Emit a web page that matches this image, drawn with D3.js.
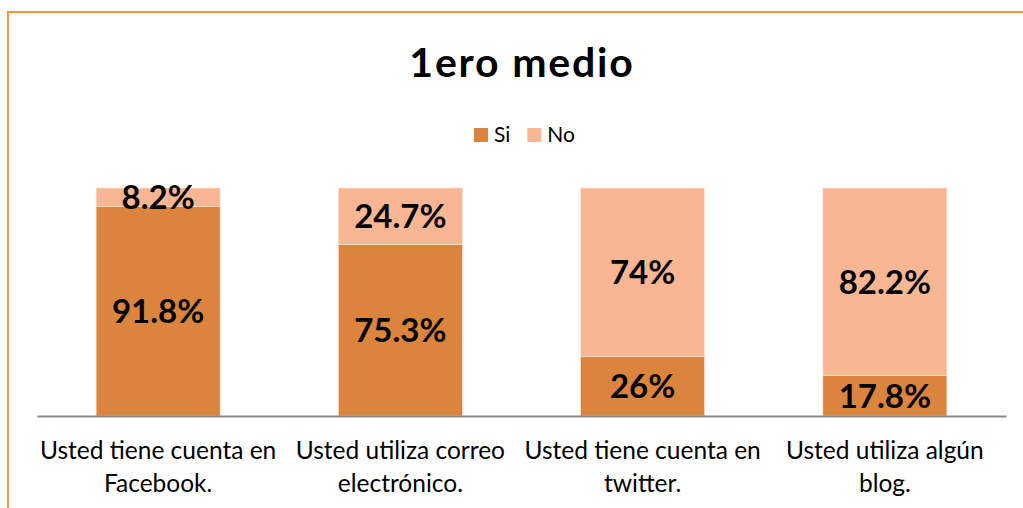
<!DOCTYPE html>
<html>
<head>
<meta charset="utf-8">
<script src="https://cdn.jsdelivr.net/npm/d3@7"></script>
<style>
  body { margin: 0; background: #fff; }
  svg { display: block; font-family: Lato, "Open Sans", sans-serif; }
</style>
</head>
<body>
<div id="chart"></div>
<script>
// data
var categories = [
    "Usted tiene cuenta en\nFacebook.",
    "Usted utiliza correo\nelectrónico.",
    "Usted tiene cuenta en\ntwitter.",
    "Usted utiliza algún\nblog."
];
var keys = ["Si", "No"];
var siValues = [91.8, 75.3, 26, 17.8];
var noValues = [8.2, 24.7, 74, 82.2];
var title = "1ero medio";

var width = 1023,
    height = 508;

var margin = {top: 188, right: 17, bottom: 92, left: 37};

var colour = d3.scaleOrdinal()
    .domain(keys)
    .range(["#DB843D", "#F9B693"]);

var rows = categories.map(function(c, i) {
    return {cat: c, Si: siValues[i], No: noValues[i]};
});

var svg = d3.select("#chart")
    .append("svg")
    .attr("width", width)
    .attr("height", height);

// orange frame (runs off the right and bottom edge like the original)
svg.append("rect")
    .attr("x", 8)
    .attr("y", 12)
    .attr("width", 1100)
    .attr("height", 600)
    .attr("fill", "none")
    .attr("stroke", "#F79646")
    .attr("stroke-width", 2);

var x = d3.scaleBand()
    .domain(categories)
    .range([margin.left, width - margin.right])
    .paddingInner(0.488)
    .paddingOuter(0.244);

var y = d3.scaleLinear()
    .domain([0, 100])
    .range([height - margin.bottom, margin.top]);

var stacked = d3.stack().keys(keys)(rows);

var layer = svg.selectAll(".layer")
    .data(stacked)
    .enter()
    .append("g")
    .attr("class", "layer")
    .attr("fill", function(d) { return colour(d.key); });

layer.selectAll("rect")
    .data(function(d) { return d; })
    .enter()
    .append("rect")
    .attr("x", function(d) { return x(d.data.cat); })
    .attr("y", function(d) { return y(d[1]); })
    .attr("width", x.bandwidth())
    .attr("height", function(d) { return y(d[0]) - y(d[1]); })
    .attr("stroke", "#fde9dc")
    .attr("stroke-width", 0.6);

// value labels in the middle of each segment
layer.selectAll("text")
    .data(function(d) { return d; })
    .enter()
    .append("text")
    .attr("x", function(d) { return x(d.data.cat) + x.bandwidth() / 2; })
    .attr("y", function(d) { return (y(d[0]) + y(d[1])) / 2; })
    .attr("dy", "0.36em")
    .attr("text-anchor", "middle")
    .attr("fill", "#000")
    .style("font-size", "33px")
    .style("font-weight", "bold")
    .text(function(d) { return d3.format("")(+(d[1] - d[0]).toFixed(1)) + "%"; });

// category axis
var xAxis = svg.append("g")
    .attr("class", "x axis")
    .attr("transform", "translate(0," + (height - margin.bottom) + ")")
    .call(d3.axisBottom(x).tickSize(0).tickSizeOuter(0).tickPadding(0));

xAxis.select(".domain")
    .attr("stroke", "#888888")
    .attr("stroke-width", 2);

xAxis.selectAll(".tick text")
    .attr("fill", "#000")
    .style("font-size", "24.5px")
    .style("font-family", "Lato, sans-serif")
    .attr("y", 0)
    .attr("dy", null)
    .each(function(d) {
        var t = d3.select(this);
        var lines = d.split("\n");
        t.text(null);
        lines.forEach(function(line, i) {
            t.append("tspan")
                .attr("x", 0)
                .attr("y", 43 + i * 33)
                .text(line);
        });
    });

// title
svg.append("text")
    .attr("x", 522)
    .attr("y", 77)
    .attr("text-anchor", "middle")
    .style("font-size", "41px")
    .style("font-weight", "bold")
    .style("letter-spacing", "1.8px")
    .attr("fill", "#000")
    .text(title);

// legend
var legend = svg.append("g")
    .attr("class", "legend")
    .attr("transform", "translate(474,128)");

var offset = 0;
keys.forEach(function(k) {
    var item = legend.append("g")
        .attr("transform", "translate(" + offset + ",0)");
    item.append("rect")
        .attr("width", 14)
        .attr("height", 14)
        .attr("fill", colour(k));
    var txt = item.append("text")
        .attr("x", 20)
        .attr("y", 14)
        .style("font-size", "21px")
        .attr("fill", "#000")
        .text(k);
    offset += 20 + txt.node().getComputedTextLength() + 17;
});
</script>
</body>
</html>
